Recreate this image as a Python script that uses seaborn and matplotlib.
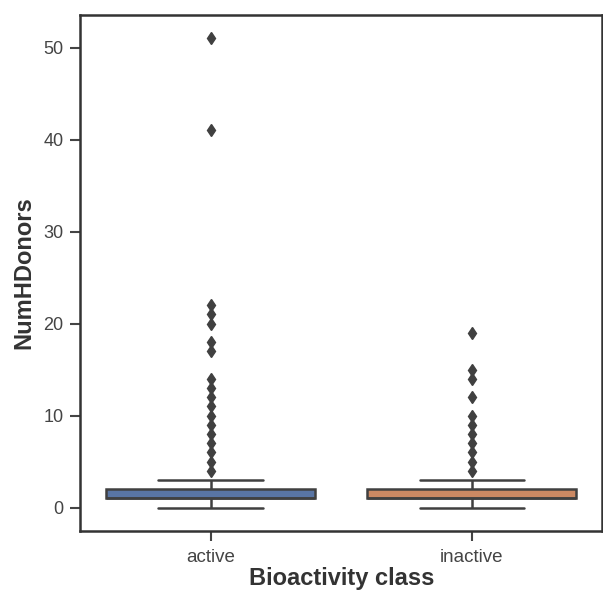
import numpy as np
import pandas as pd
import seaborn as sns
import matplotlib.pyplot as plt

# valores distintos e quantas moléculas têm cada um
active_values = [0, 1, 2, 3, 4, 5, 6, 7, 8, 9, 10, 11, 12, 13, 14, 17, 18, 20, 21, 22, 41, 51]
active_counts = [50, 200, 150, 60, 1, 1, 1, 1, 1, 1, 1, 1, 1, 1, 1, 1, 1, 1, 1, 1, 1, 1]
inactive_values = [0, 1, 2, 3, 4, 5, 6, 7, 8, 9, 10, 12, 14, 15, 19]
inactive_counts = [40, 150, 120, 50, 1, 1, 1, 1, 1, 1, 1, 1, 1, 1, 1]
classes = ["active", "inactive"]

df = pd.DataFrame({
    "bioactivity_class": ["active"] * sum(active_counts) + ["inactive"] * sum(inactive_counts),
    "NumHDonors": list(np.repeat(active_values, active_counts)) + list(np.repeat(inactive_values, inactive_counts)),
})

sns.set_style("ticks")
plt.rcParams["font.family"] = ["Liberation Sans", "DejaVu Sans"]

fig = plt.figure(figsize=(6.03, 5.91), dpi=100)
ax = fig.add_axes([0.1327, 0.1015, 0.8663, 0.8731])

cinza = "#404040"
sns.boxplot(x="bioactivity_class", y="NumHDonors", data=df, order=classes,
            hue="bioactivity_class", palette="deep", legend=False, ax=ax,
            linewidth=1.8, linecolor=cinza,
            flierprops=dict(marker="d", markerfacecolor=cinza, markeredgecolor=cinza, markersize=6))

ax.set_xlabel("Bioactivity class", fontsize=17, fontweight="bold", color="#333333", labelpad=1)
ax.set_ylabel("NumHDonors", fontsize=17, fontweight="bold", color="#333333", labelpad=6)
ax.tick_params(labelsize=13, width=1.5, length=7, colors="#444444", pad=5)
ax.tick_params(axis="x", labelsize=13.5, pad=6)
for s in ax.spines.values():
    s.set_linewidth(1.8)
    s.set_color("#333333")

fig.savefig("out.png", dpi=100)
